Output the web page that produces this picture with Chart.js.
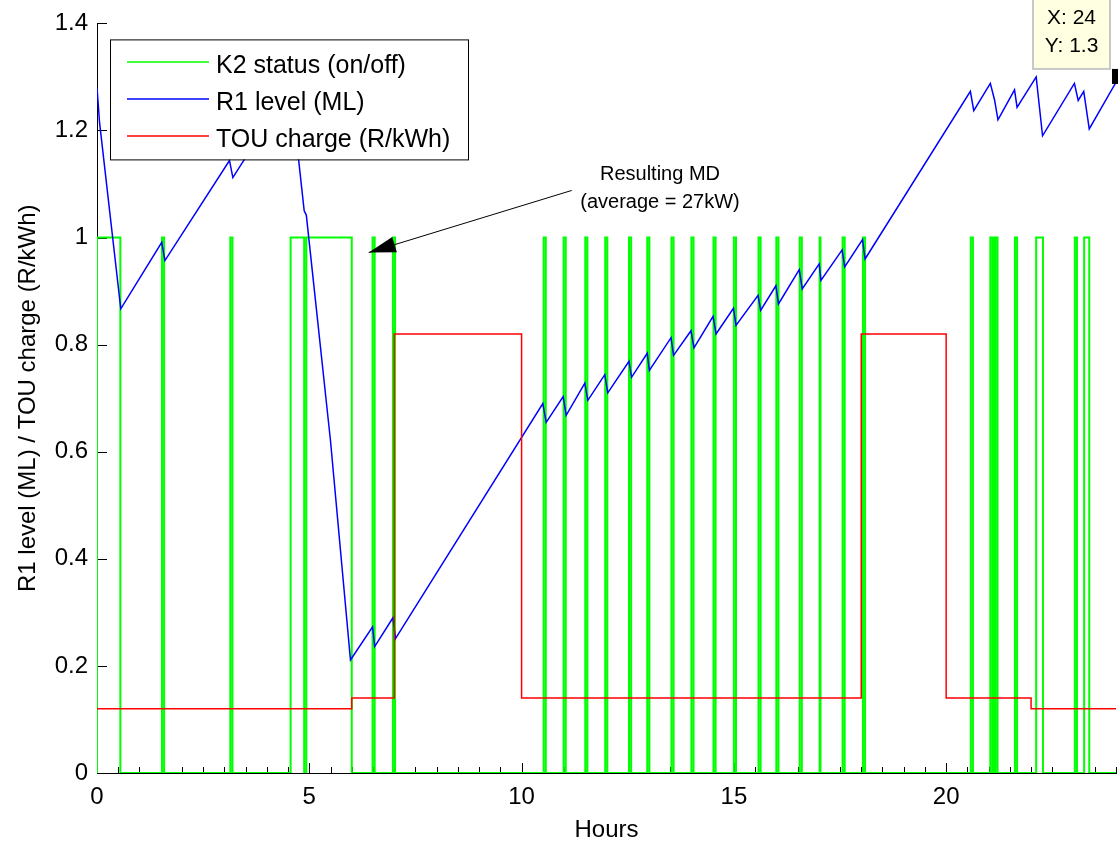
<!DOCTYPE html>
<html><head><meta charset="utf-8">
<script src="https://cdn.jsdelivr.net/npm/chart.js@4.4.1/dist/chart.umd.min.js"></script>
<style>html,body{margin:0;padding:0;background:#fff;overflow:hidden}#wrap{width:1118px;height:843px;position:relative}</style>
</head><body><div id="wrap"><canvas id="c"></canvas></div>
<script>
// ---- data ----
const seriesLabels = ['K2 status (on/off)', 'R1 level (ML)', 'TOU charge (R/kWh)'];

// K2 pump on/off switching times (hours)
const k2OnHours  = [0, 1.53, 3.14, 4.56, 4.93, 6.49, 6.97, 10.52, 10.99, 11.50, 11.97, 12.53, 12.96, 13.53, 14.00, 14.52, 15.00, 15.58, 16.00, 16.55, 17.02, 17.56, 18.04, 20.58, 21.04, 21.11, 21.16, 21.62, 22.12, 23.03, 23.25];
const k2OffHours = [0.55, 1.58, 3.19, 4.88, 6.00, 6.54, 7.02, 10.57, 11.04, 11.55, 12.02, 12.58, 13.01, 13.58, 14.05, 14.57, 15.05, 15.63, 16.05, 16.60, 17.04, 17.61, 18.09, 20.63, 21.09, 21.14, 21.21, 21.67, 22.28, 23.08, 23.37];

// R1 reservoir level (ML)
const r1Hours = [0, 0.06, 0.56, 1.525, 1.60, 3.12, 3.20, 4.56, 4.88, 4.93, 5.50, 5.97, 6.49, 6.54, 6.97, 7.03, 10.50, 10.58, 10.98, 11.05, 11.49, 11.56, 11.96, 12.03, 12.53, 12.59, 12.96, 13.01, 13.52, 13.58, 13.99, 14.06, 14.51, 14.58, 14.99, 15.05, 15.57, 15.63, 15.99, 16.05, 16.54, 16.61, 17.01, 17.05, 17.55, 17.61, 18.03, 18.09, 20.57, 20.65, 21.04, 21.14, 21.22, 21.61, 21.67, 22.12, 22.27, 23.02, 23.11, 23.24, 23.37, 24];
const r1Level = [1.28, 1.215, 0.867, 0.991, 0.957, 1.144, 1.112, 1.282, 1.05, 1.042, 0.62, 0.211, 0.273, 0.236, 0.290, 0.251, 0.690, 0.655, 0.703, 0.668, 0.728, 0.696, 0.744, 0.710, 0.769, 0.739, 0.784, 0.752, 0.813, 0.780, 0.826, 0.794, 0.853, 0.820, 0.868, 0.836, 0.892, 0.864, 0.910, 0.876, 0.940, 0.904, 0.951, 0.920, 0.977, 0.945, 0.996, 0.960, 1.273, 1.237, 1.288, 1.257, 1.220, 1.276, 1.243, 1.300, 1.190, 1.288, 1.256, 1.273, 1.203, 1.29];

// Time-of-use tariff (R/kWh)
const touStartHours = [0, 6, 7, 10, 18, 20, 22];
const touRate       = [0.12, 0.14, 0.82, 0.14, 0.82, 0.14, 0.12];

const xTickValues = [0, 5, 10, 15, 20];
const xTickLabels = ['0', '5', '10', '15', '20'];
const yTickValues = [0, 0.2, 0.4, 0.6, 0.8, 1.0, 1.2, 1.4];
const yTickLabels = ['0', '0.2', '0.4', '0.6', '0.8', '1', '1.2', '1.4'];
const xAxisTitle = 'Hours';
const yAxisTitle = 'R1 level (ML) / TOU charge (R/kWh)';
const annotationLines = ['Resulting MD', '(average = 27kW)'];
const annotationText = {x: 13.26, y: [1.117, 1.065]};
const annotationArrow = {fromX: 11.18, fromY: 1.088, toX: 6.40, toY: 0.972};
const dataTip = {x: 24, y: 1.3, lines: ['X: 24', 'Y: 1.3']};

// ---- build library tables ----
const k2Points = [];
k2OnHours.forEach((on, i) => {
  const off = k2OffHours[i];
  k2Points.push({x: on, y: 0}, {x: on, y: 1}, {x: off, y: 1}, {x: off, y: 0});
});
k2Points.push({x: 24, y: 0});
const r1Points = r1Hours.map((h, i) => ({x: h, y: r1Level[i]}));
const touPoints = [];
touStartHours.forEach((h, i) => {
  const end = i + 1 < touStartHours.length ? touStartHours[i + 1] : 24;
  touPoints.push({x: h, y: touRate[i]}, {x: end, y: touRate[i]});
});

const FAM = '"Liberation Sans", Arial, sans-serif';
const COLORS = ['#00ff00', '#0000ff', '#ff0000'];

const overlay = {
  id: 'overlay',
  beforeDatasetsDraw(chart) {
    const {ctx, chartArea: a, scales: {x, y}} = chart;
    ctx.save();
    ctx.strokeStyle = '#000';
    ctx.lineWidth = 1;
    ctx.beginPath();
    yTickValues.forEach(v => {
      const py = Math.round(y.getPixelForValue(v)) + 0.5;
      ctx.moveTo(a.left, py); ctx.lineTo(a.left + 10, py);
    });
    for (let h = 0; h <= 24; h += 0.5) {
      const px = Math.round(x.getPixelForValue(h)) + 0.5;
      const len = (h % 5 === 0) ? 10 : 6;
      ctx.moveTo(px, a.bottom); ctx.lineTo(px, a.bottom - len);
    }
    ctx.stroke();
    ctx.restore();
  },
  afterDraw(chart) {
    const {ctx, chartArea: a, scales: {x, y}} = chart;
    ctx.save();
    // legend box
    const lx = a.left + 13, ly = a.top + 16, lw = 358, lh = 120;
    ctx.fillStyle = '#fff';
    ctx.fillRect(lx, ly, lw, lh);
    ctx.strokeStyle = '#000'; ctx.lineWidth = 1;
    ctx.strokeRect(lx + 0.5, ly + 0.5, lw, lh);
    const rows = [62, 99, 136];
    ctx.font = '25px ' + FAM;
    ctx.textBaseline = 'alphabetic';
    ctx.textAlign = 'left';
    seriesLabels.forEach((t, i) => {
      ctx.strokeStyle = COLORS[i]; ctx.lineWidth = 1.5;
      ctx.beginPath(); ctx.moveTo(127, rows[i]); ctx.lineTo(209, rows[i]); ctx.stroke();
      ctx.fillStyle = '#000';
      ctx.fillText(t, 216, rows[i] + 10.5);
    });
    // annotation
    ctx.font = '20px ' + FAM;
    ctx.textAlign = 'center'; ctx.textBaseline = 'middle';
    annotationLines.forEach((t, i) => {
      ctx.fillText(t, x.getPixelForValue(annotationText.x), y.getPixelForValue(annotationText.y[i]));
    });
    const fx = x.getPixelForValue(annotationArrow.fromX), fy = y.getPixelForValue(annotationArrow.fromY);
    const tx = x.getPixelForValue(annotationArrow.toX), ty = y.getPixelForValue(annotationArrow.toY);
    const ang = Math.atan2(ty - fy, tx - fx);
    ctx.strokeStyle = '#000'; ctx.lineWidth = 1;
    ctx.beginPath(); ctx.moveTo(fx, fy); ctx.lineTo(tx, ty); ctx.stroke();
    const hl = 27, hw = 8;
    ctx.beginPath();
    ctx.moveTo(tx, ty);
    ctx.lineTo(tx - hl * Math.cos(ang) + hw * Math.sin(ang), ty - hl * Math.sin(ang) - hw * Math.cos(ang));
    ctx.lineTo(tx - hl * Math.cos(ang) - hw * Math.sin(ang), ty - hl * Math.sin(ang) + hw * Math.cos(ang));
    ctx.closePath(); ctx.fillStyle = '#000'; ctx.fill();
    // data tip
    const px = x.getPixelForValue(dataTip.x), py = y.getPixelForValue(dataTip.y);
    const br = px - 6, bb = py - 8, bw = 77, bh = 74;
    ctx.fillStyle = '#ffffe1';
    ctx.fillRect(br - bw, bb - bh, bw, bh);
    ctx.strokeStyle = '#c8c8c8'; ctx.lineWidth = 2;
    ctx.strokeRect(br - bw, bb - bh, bw, bh);
    ctx.fillStyle = '#000';
    ctx.font = '21px ' + FAM;
    ctx.textAlign = 'center'; ctx.textBaseline = 'middle';
    ctx.fillText(dataTip.lines[0], br - bw / 2, bb - 51);
    ctx.fillText(dataTip.lines[1], br - bw / 2, bb - 23);
    ctx.fillRect(px - 4, py - 8, 10, 15);
    ctx.restore();
  }
};

new Chart(document.getElementById('c'), {
  type: 'line',
  data: {
    datasets: [
      {label: seriesLabels[0], data: k2Points, borderColor: COLORS[0], borderWidth: 2, pointRadius: 0, order: 3},
      {label: seriesLabels[1], data: r1Points, borderColor: COLORS[1], borderWidth: 1.5, pointRadius: 0, order: 2},
      {label: seriesLabels[2], data: touPoints, borderColor: COLORS[2], borderWidth: 1.5, pointRadius: 0, order: 1}
    ]
  },
  options: {
    responsive: true, maintainAspectRatio: false, devicePixelRatio: 1, animation: false,
    layout: {padding: {top: 22, right: 2, left: 0, bottom: 0}},
    plugins: {legend: {display: false}, tooltip: {enabled: false}},
    elements: {line: {tension: 0}},
    scales: {
      x: {
        type: 'linear', min: 0, max: 24,
        afterBuildTicks: s => { s.ticks = xTickValues.map(v => ({value: v})); },
        afterFit: s => { s.height = 70; },
        ticks: {color: '#000', font: {family: FAM, size: 24}, padding: 10, maxRotation: 0, autoSkip: false,
                callback: (v) => xTickLabels[xTickValues.indexOf(v)]},
        grid: {drawOnChartArea: false, drawTicks: false},
        border: {display: true, color: '#000', width: 1},
        title: {display: true, text: xAxisTitle, color: '#000', font: {family: FAM, size: 24}, padding: {top: 0, bottom: -2}}
      },
      y: {
        type: 'linear', min: 0, max: 1.4,
        afterBuildTicks: s => { s.ticks = yTickValues.map(v => ({value: v})); },
        afterFit: s => { s.width = 97; },
        ticks: {color: '#000', font: {family: FAM, size: 24}, padding: 9, autoSkip: false,
                callback: (v) => yTickLabels[yTickValues.indexOf(v)]},
        grid: {drawOnChartArea: false, drawTicks: false},
        border: {display: true, color: '#000', width: 1},
        title: {display: true, text: yAxisTitle, color: '#000', font: {family: FAM, size: 24}, padding: {top: 14, bottom: 0}}
      }
    }
  },
  plugins: [overlay]
});
</script>
</body></html>
